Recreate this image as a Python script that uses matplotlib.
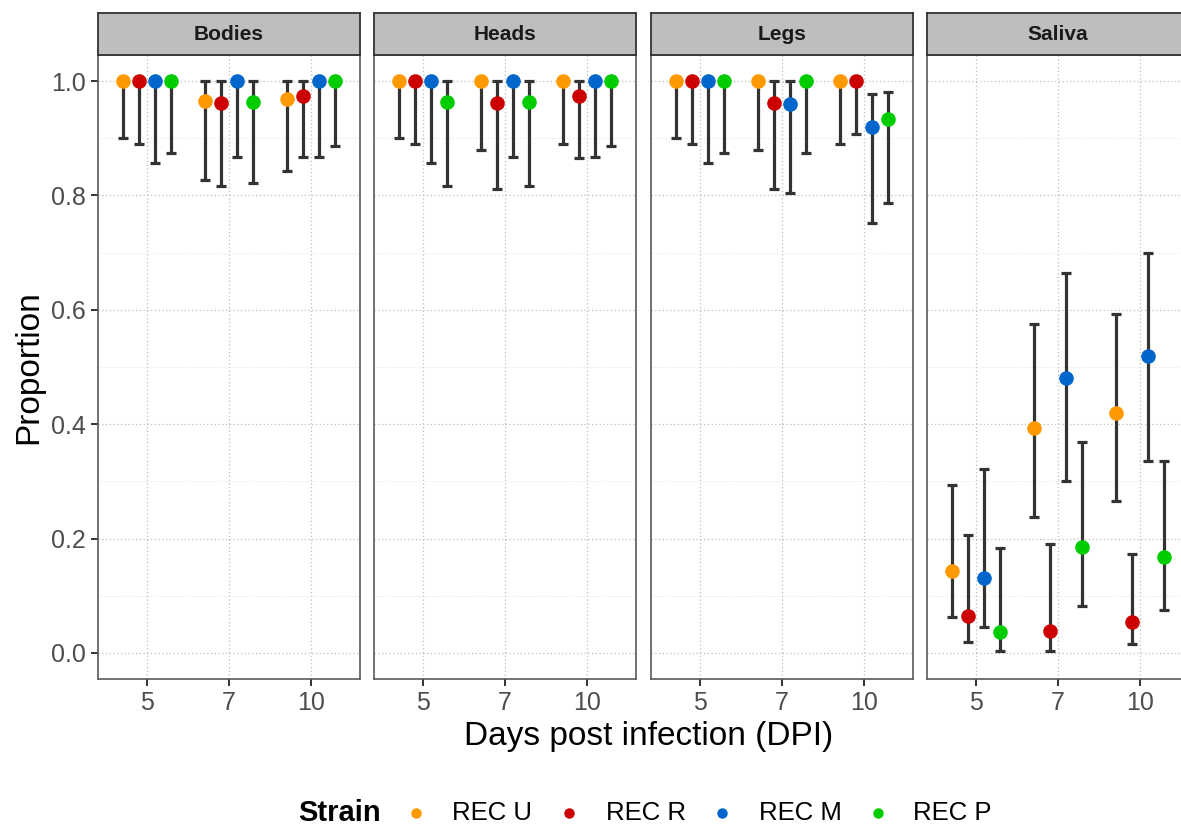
import matplotlib
matplotlib.use("Agg")
import matplotlib.pyplot as plt
from matplotlib.lines import Line2D
import numpy as np

plt.rcParams['font.family'] = ['Liberation Sans', 'DejaVu Sans']

tissues = ["Bodies", "Heads", "Legs", "Saliva"]
days = ["5", "7", "10"]
strains = ["REC U", "REC R", "REC M", "REC P"]
colors = ["#FF9900", "#CC0000", "#0066CC", "#00CC00"]

# rows: strains (U, R, M, P); columns: days (5, 7, 10)
bodies_prop = [[1.0, 0.965, 0.968], [1.0, 0.962, 0.974], [1.0, 1.0, 1.0], [1.0, 0.963, 1.0]]
bodies_lo = [[0.900, 0.827, 0.843], [0.890, 0.816, 0.867], [0.857, 0.867, 0.867], [0.874, 0.822, 0.886]]
bodies_hi = [[1.0, 1.0, 1.0], [1.0, 1.0, 1.0], [1.0, 1.0, 1.0], [1.0, 1.0, 1.0]]

heads_prop = [[1.0, 1.0, 1.0], [1.0, 0.962, 0.974], [1.0, 1.0, 1.0], [0.963, 0.963, 1.0]]
heads_lo = [[0.900, 0.879, 0.890], [0.890, 0.811, 0.865], [0.857, 0.867, 0.867], [0.816, 0.816, 0.886]]
heads_hi = [[1.0, 1.0, 1.0], [1.0, 1.0, 1.0], [1.0, 1.0, 1.0], [1.0, 1.0, 1.0]]

legs_prop = [[1.0, 1.0, 1.0], [1.0, 0.962, 1.0], [1.0, 0.960, 0.920], [1.0, 1.0, 0.934]]
legs_lo = [[0.900, 0.879, 0.890], [0.890, 0.811, 0.907], [0.857, 0.804, 0.752], [0.874, 0.874, 0.787]]
legs_hi = [[1.0, 1.0, 1.0], [1.0, 1.0, 1.0], [1.0, 1.0, 0.977], [1.0, 1.0, 0.981]]

saliva_prop = [[0.143, 0.393, 0.420], [0.065, 0.039, 0.054], [0.131, 0.480, 0.520], [0.037, 0.186, 0.167]]
saliva_lo = [[0.063, 0.237, 0.265], [0.019, 0.003, 0.016], [0.046, 0.301, 0.336], [0.003, 0.083, 0.075]]
saliva_hi = [[0.294, 0.576, 0.593], [0.207, 0.190, 0.173], [0.321, 0.665, 0.700], [0.183, 0.368, 0.336]]

panel_data = [
    (bodies_prop, bodies_lo, bodies_hi),
    (heads_prop, heads_lo, heads_hi),
    (legs_prop, legs_lo, legs_hi),
    (saliva_prop, saliva_lo, saliva_hi),
]

W, H = 1181, 825
fig = plt.figure(figsize=(W / 100, H / 100), dpi=100)

panel_left_px = [98, 374, 651, 927]
panel_w_px = 262
top_px, bot_px = 55, 679
strip_top_px = 13

dodge = 0.195
xpos = np.arange(1, len(days) + 1)

for k, (tissue, (prop, lo, hi)) in enumerate(zip(tissues, panel_data)):
    l = panel_left_px[k] / W
    w = panel_w_px / W
    b = 1 - bot_px / H
    h = (bot_px - top_px) / H
    ax = fig.add_axes([l, b, w, h])
    ax.set_xlim(0.4, 3.6)
    ax.set_ylim(-0.0455, 1.0455)
    ax.set_yticks([0.0, 0.2, 0.4, 0.6, 0.8, 1.0])
    ax.set_yticks([0.1, 0.3, 0.5, 0.7, 0.9], minor=True)
    ax.set_xticks(xpos)
    ax.set_xticklabels(days)
    ax.grid(which='major', axis='both', color='#BDBDBD', linestyle=(0, (1, 2)), linewidth=0.9, zorder=0)
    ax.grid(which='minor', axis='y', color='#E0E0E0', linestyle=(0, (1, 2)), linewidth=0.7, zorder=0)
    ax.set_axisbelow(True)
    for s in ax.spines.values():
        s.set_color('#5A5A5A')
        s.set_linewidth(1.2)
    ax.tick_params(axis='both', which='major', length=5, width=1.4, color='#333333',
                   labelsize=18, labelcolor='#4D4D4D', pad=4)
    ax.tick_params(axis='y', which='minor', length=0)
    if k > 0:
        ax.tick_params(axis='y', which='major', left=False, labelleft=False)
    for i in range(len(strains)):
        xs = xpos + (i - 1.5) * dodge
        y = np.array(prop[i])
        yl = np.array(lo[i])
        yh = np.array(hi[i])
        ax.errorbar(xs, y, yerr=[y - yl, yh - y], fmt='none', ecolor='#333333',
                    elinewidth=2.3, capsize=3.3, capthick=2.3, zorder=3)
        ax.plot(xs, y, linestyle='none', marker='o', markersize=10.5, color=colors[i],
                markeredgewidth=0, zorder=4)
    # strip
    sax = fig.add_axes([l, 1 - top_px / H, w, (top_px - strip_top_px) / H])
    sax.set_facecolor('#BEBEBE')
    sax.set_xticks([])
    sax.set_yticks([])
    for s in sax.spines.values():
        s.set_color('#333333')
        s.set_linewidth(1.3)
    sax.text(0.5, 0.5, tissue, transform=sax.transAxes, ha='center', va='center',
             fontsize=15, fontweight='bold', color='#1A1A1A')

fig.text(649 / W, 1 - 737 / H, "Days post infection (DPI)", ha='center', va='center', fontsize=24, color='black')
fig.text(29 / W, 1 - 367 / H, "Proportion", ha='center', va='center', rotation=90, fontsize=24, color='black')

# legend (manual placement)
leg_y = 1 - 813 / H
fig.text(298 / W, leg_y, "Strain", ha='left', va='center', fontsize=21, fontweight='bold')
dot_x = [416, 569, 722, 878]
lab_x = [452, 606, 759, 913]
for c, name, dx, tx in zip(colors, strains, dot_x, lab_x):
    fig.add_artist(Line2D([dx / W], [leg_y], linestyle='none', marker='o', markersize=7.5,
                          color=c, markeredgewidth=0, transform=fig.transFigure))
    fig.text(tx / W, leg_y, name, ha='left', va='center', fontsize=18.5, color='black')

fig.savefig("out.png", dpi=100)
